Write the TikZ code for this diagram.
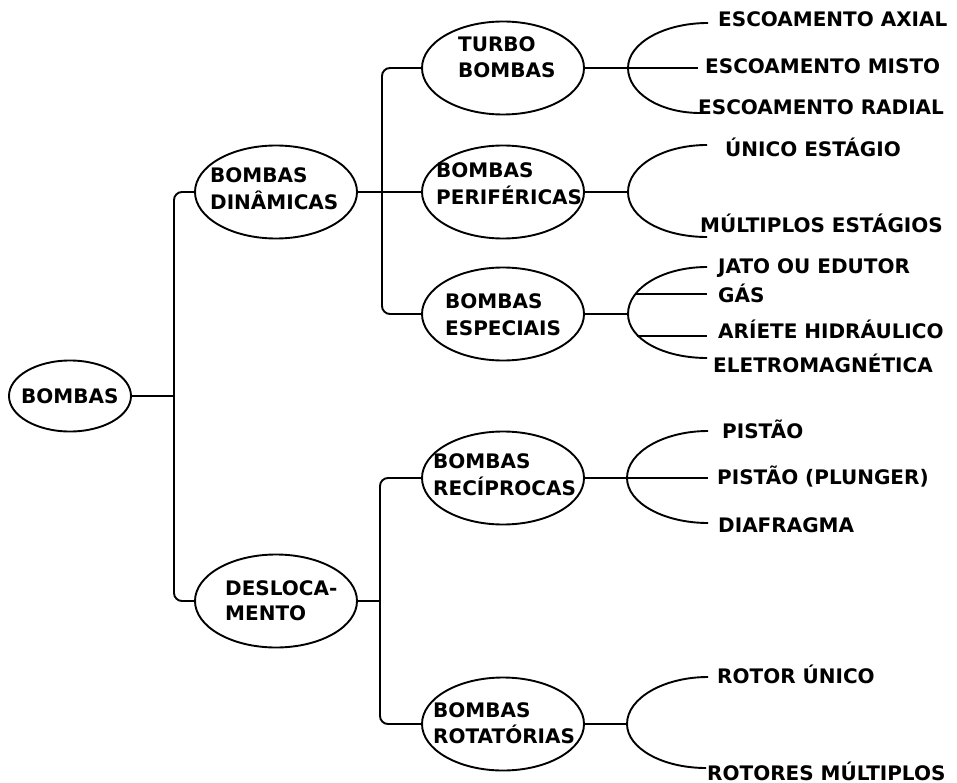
\documentclass[tikz,border=0pt]{standalone}
\usepackage{fontspec}
\setmainfont{DejaVu Sans}
\usetikzlibrary{shapes.geometric}

\tikzset{
  wire/.style={line width=1.9pt, black},
  trunk/.style={wire, rounded corners=8pt},
  oval/.style={draw, line width=1.9pt, ellipse, inner sep=0pt,
               minimum width=162pt, minimum height=93pt},
  lbl/.style={inner sep=0pt, anchor=base west,
              font=\bfseries\fontsize{20}{24}\selectfont},
}

\begin{document}
\begin{tikzpicture}[x=1pt, y=-1pt]
\fill[white] (0,0) rectangle (957,783);
\useasboundingbox (0,0) rectangle (957,783);

% ---- ellipses ----
\node[oval, minimum width=122pt, minimum height=71pt] (root) at (70,396) {};
\node[oval] (dyn)   at (276,192) {};
\node[oval] (desl)  at (276,601) {};
\node[oval] (turbo) at (503,68)  {};
\node[oval] (peri)  at (503,192) {};
\node[oval] (espec) at (503,314) {};
\node[oval] (recip) at (503,478) {};
\node[oval] (rot)   at (503,724) {};

% ---- texts inside the ellipses ----
\node[lbl] (troot)  at (21,403)  {BOMBAS};
\node[lbl] (tdyn1)  at (210,183) {BOMBAS};
\node[lbl] (tdyn2)  at (210,210) {DINÂMICAS};
\node[lbl] (tdes1)  at (225,595) {DESLOCA-};
\node[lbl] (tdes2)  at (225,620) {MENTO};
\node[lbl] (ttur1)  at (458,52)  {TURBO};
\node[lbl] (ttur2)  at (458,78)  {BOMBAS};
\node[lbl] (tper1)  at (436,178) {BOMBAS};
\node[lbl] (tper2)  at (436,205) {PERIFÉRICAS};
\node[lbl] (tesp1)  at (445,308) {BOMBAS};
\node[lbl] (tesp2)  at (445,335) {ESPECIAIS};
\node[lbl] (trec1)  at (433,468) {BOMBAS};
\node[lbl] (trec2)  at (433,495) {RECÍPROCAS};
\node[lbl] (trot1)  at (433,717) {BOMBAS};
\node[lbl] (trot2)  at (433,743) {ROTATÓRIAS};

% ---- leaf labels ----
\node[lbl] (axial)  at (718,27)  {ESCOAMENTO AXIAL};
\node[lbl] (misto)  at (705,74)  {ESCOAMENTO MISTO};
\node[lbl] (radial) at (698,115) {ESCOAMENTO RADIAL};
\node[lbl] (unico)  at (725,157) {ÚNICO ESTÁGIO};
\node[lbl] (multi)  at (700,233) {MÚLTIPLOS ESTÁGIOS};
\node[lbl] (jato)   at (718,273) {JATO OU EDUTOR};
\node[lbl] (gas)    at (718,302) {GÁS};
\node[lbl] (ariete) at (718,338) {ARÍETE HIDRÁULICO};
\node[lbl] (eletro) at (713,372) {ELETROMAGNÉTICA};
\node[lbl] (pist)   at (722,438) {PISTÃO};
\node[lbl] (plung)  at (717,484) {PISTÃO (PLUNGER)};
\node[lbl] (diaf)   at (718,532) {DIAFRAGMA};
\node[lbl] (rotu)   at (717,683) {ROTOR ÚNICO};
\node[lbl] (rotm)   at (707,780) {ROTORES MÚLTIPLOS};

% ---- tree trunks ----
\coordinate (t1) at (174,396);
\draw[wire] (root.east) -- (t1);
\draw[trunk] (dyn.west) -| (t1) |- (desl.west);

\coordinate (t2) at (382,192);
\draw[wire] (dyn.east) -- (t2) -- (peri.west);
\draw[trunk] (turbo.west) -| (t2) |- (espec.west);

\coordinate (t3) at (380,601);
\draw[wire] (desl.east) -- (t3);
\draw[trunk] (recip.west) -| (t3) |- (rot.west);

% ---- brackets towards the leaves ----
% turbo pumps
\coordinate (ba) at (628,68);
\draw[wire] (turbo.east) -- (698,68);
\draw[wire] (708,23) .. controls (664,23) and (628,43) .. (ba)
                     .. controls (628,93) and (660,113) .. (700,113);

% peripheral pumps
\coordinate (bb) at (628,192);
\draw[wire] (peri.east) -- (bb);
\draw[wire] (707,145) .. controls (663,145) and (628,166) .. (bb)
                      .. controls (628,218) and (663,237) .. (707,237);

% special pumps
\coordinate (bc) at (628,314);
\draw[wire] (espec.east) -- (bc);
\draw[wire] (707,267) .. controls (663,267) and (628,288) .. (bc)
                      .. controls (628,339) and (663,358) .. (707,358);
\draw[wire] (636,294) -- (707,294);
\draw[wire] (637,336) -- (707,336);

% reciprocating pumps
\coordinate (bd) at (627,478);
\draw[wire] (recip.east) -- (708,478);
\draw[wire] (708,431) .. controls (664,431) and (627,452) .. (bd)
                      .. controls (627,503) and (664,523) .. (708,523);

% rotary pumps
\coordinate (be) at (627,724);
\draw[wire] (rot.east) -- (be);
\draw[wire] (708,677) .. controls (664,677) and (627,698) .. (be)
                      .. controls (627,748) and (662,768) .. (706,768);
\end{tikzpicture}
\end{document}
